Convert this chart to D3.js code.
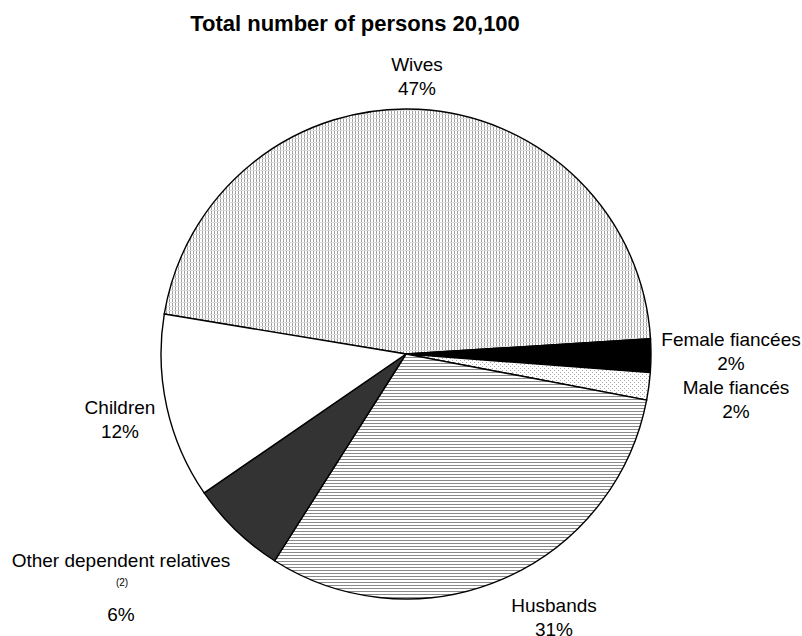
<!DOCTYPE html>
<html><head><meta charset="utf-8">
<script src="https://cdn.jsdelivr.net/npm/d3@7"></script>
<style>body{margin:0;background:#fff}svg{display:block}text{font-family:"Liberation Sans",Arial,sans-serif;fill:#000}</style>
</head><body><svg id="c" width="802" height="636"></svg>
<script>
const categories = ["Wives","Female fiancées","Male fiancés","Husbands","Other dependent relatives","Children"];
const values = [46.4, 2.2, 1.8, 31.0, 6.4, 12.2];
const pctLabels = ["47%","2%","2%","31%","6%","12%"];
const footnote = "(2)";
const title = "Total number of persons 20,100";

const svg = d3.select("#c");
const defs = svg.append("defs");
const pw = defs.append("pattern").attr("id","pWives").attr("patternUnits","userSpaceOnUse").attr("width",3).attr("height",4);
pw.append("rect").attr("width",3).attr("height",4).attr("fill","#fff");
pw.append("rect").attr("x",0).attr("width",1).attr("height",4).attr("fill","#a0a0a0");
pw.append("rect").attr("y",0).attr("width",3).attr("height",1).attr("fill","#dcdcdc");
const ph = defs.append("pattern").attr("id","pHus").attr("patternUnits","userSpaceOnUse").attr("width",4).attr("height",3);
ph.append("rect").attr("width",4).attr("height",3).attr("fill","#fff");
ph.append("rect").attr("width",4).attr("height",1).attr("fill","#8a8a8a");
const pm = defs.append("pattern").attr("id","pMale").attr("patternUnits","userSpaceOnUse").attr("width",4).attr("height",4);
pm.append("rect").attr("width",4).attr("height",4).attr("fill","#fff");
pm.append("rect").attr("x",0).attr("y",0).attr("width",1).attr("height",1).attr("fill","#aaa");
pm.append("rect").attr("x",2).attr("y",2).attr("width",1).attr("height",1).attr("fill","#aaa");
const fills = ["url(#pWives)","#000","url(#pMale)","url(#pHus)","#333","#fff"];

const cx = 406, cy = 354, r = 245;
const start = -80.6*Math.PI/180;
const pie = d3.pie().sort(null).value(d=>d).startAngle(start).endAngle(start+2*Math.PI);
const arc = d3.arc().innerRadius(0).outerRadius(r);
const g = svg.append("g").attr("transform",`translate(${cx},${cy})`);
g.selectAll("path").data(pie(values)).join("path")
  .attr("d",arc).attr("fill",(d,i)=>fills[i]).attr("stroke","#000").attr("stroke-width",1.4);

svg.append("text").attr("x",355).attr("y",31).attr("text-anchor","middle")
  .attr("font-size",22).attr("font-weight","bold").text(title);

const lab = [
  {x:417, y:71, py:95},
  {x:731, y:346, py:370},
  {x:736, y:394, py:418},
  {x:554, y:612, py:636},
  {x:121, y:567, py:621, sy:586},
  {x:120, y:414, py:438}
];
lab.forEach((l,i)=>{
  svg.append("text").attr("x",l.x).attr("y",l.y).attr("text-anchor","middle").attr("font-size",19).text(categories[i]);
  svg.append("text").attr("x",l.x).attr("y",l.py).attr("text-anchor","middle").attr("font-size",19).text(pctLabels[i]);
  if(l.sy) svg.append("text").attr("x",l.x+1).attr("y",l.sy).attr("text-anchor","middle").attr("font-size",10).text(footnote);
});
</script></body></html>
